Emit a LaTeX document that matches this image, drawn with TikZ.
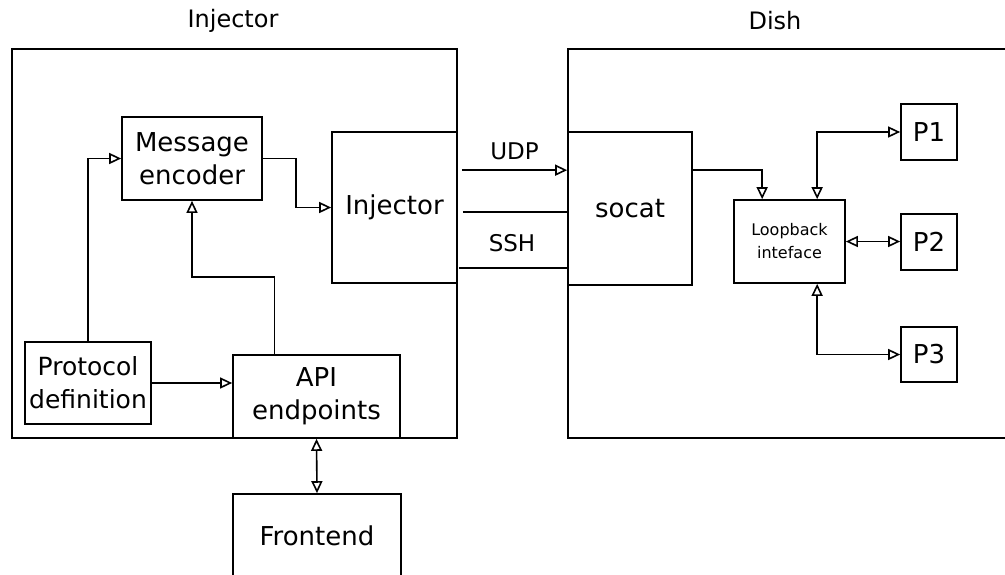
\documentclass[tikz,border=0pt]{standalone}
\usepackage{fontspec}
\setmainfont{DejaVu Sans}
\usetikzlibrary{arrows.meta,calc}
\tikzset{
  box/.style={draw, line width=1.7pt, inner sep=0pt, align=center,
    font=\fontsize{26}{33}\selectfont},
  title/.style={font=\fontsize{24}{28}\selectfont},
  tip/.style={},
  arr/.style={line width=1.6pt, -{Triangle[open,length=12pt,width=11pt]}},
  darr/.style={line width=1.6pt, {Triangle[open,length=12pt,width=11pt]}-{Triangle[open,length=12pt,width=11pt]}},
  ln/.style={line width=1.6pt},
}
\begin{document}
\begin{tikzpicture}[x=1pt,y=-1pt]
\useasboundingbox (0,0) rectangle (1005,574);
% containers
\node[box, minimum width=445pt, minimum height=389pt] (injbig) at (234.5,243.5) {};
\node[box, minimum width=442pt, minimum height=389pt] (dish) at (789,243.5) {};
\node[title] (tinj) at (233,21) {Injector};
\node[title] (tdish) at (775,21) {Dish};
% inner nodes
\node[box, minimum width=140pt, minimum height=83pt] (enc) at (192,158.5) {Message\\encoder};
\node[box, minimum width=125pt, minimum height=151pt] (inj) at (394.5,207.5) {Injector};
\node[box, minimum width=126pt, minimum height=82pt, font=\fontsize{25}{33}\selectfont] (proto) at (88,383) {Protocol\\definition};
\node[box, minimum width=167pt, minimum height=83pt] (api) at (316.5,396.5) {API\\endpoints};
\node[box, minimum width=168pt, minimum height=90pt] (fe) at (317,539) {};
\node[font=\fontsize{26}{33}\selectfont, anchor=center] (fetext) at (317,536) {Frontend};
\node[box, minimum width=124pt, minimum height=153pt] (socat) at (630,208.5) {socat};
\node[box, minimum width=111pt, minimum height=83pt, font=\fontsize{16}{23}\selectfont] (loop) at (789.5,241.5) {Loopback\\inteface};
\node[box, minimum width=56pt, minimum height=56pt] (p1) at (929,132) {P1};
\node[box, minimum width=56pt, minimum height=56pt] (p2) at (929,242) {P2};
\node[box, minimum width=56pt, minimum height=55pt] (p3) at (929,354.5) {P3};
% links between injector and socat
\coordinate (udpA) at ($(inj.north east)+(4,39)$);
\coordinate (sshA) at ($(inj.north east)+(5,81)$);
\coordinate (sshB) at ($(inj.north east)+(1,137)$);
\draw[arr] (udpA) -- (udpA -| socat.west) node[midway, above=6pt, font=\fontsize{23}{26}\selectfont] (udp) {UDP};
\draw[ln] (sshA) -- (sshA -| socat.west);
\draw[ln] (sshB) -- (sshB -| socat.west);
\node[font=\fontsize{23}{26}\selectfont] (ssh) at (512,243) {SSH};
% injector internal connectors
\draw[arr] (enc.east) -- ++(33,0) |- (inj.west);
\draw[arr] (proto.north) |- (enc.west);
\draw[arr] (proto.east) -- (proto.east -| api.west);
\draw[arr] ($(api.north west)!0.25!(api.north east)$) -- ++(0,-77) -| (enc.south);
\draw[darr] (api.south) -- (fe.north);
% dish connectors
\draw[arr] (udpA -| socat.east) -| ($(loop.north west)+(29,0)$);
\draw[darr] ($(loop.north west)+(84,0)$) |- (p1.west);
\draw[darr] (loop.east) -- (loop.east -| p2.west);
\draw[darr] ($(loop.south west)+(84,0)$) |- (p3.west);
\end{tikzpicture}
\end{document}
